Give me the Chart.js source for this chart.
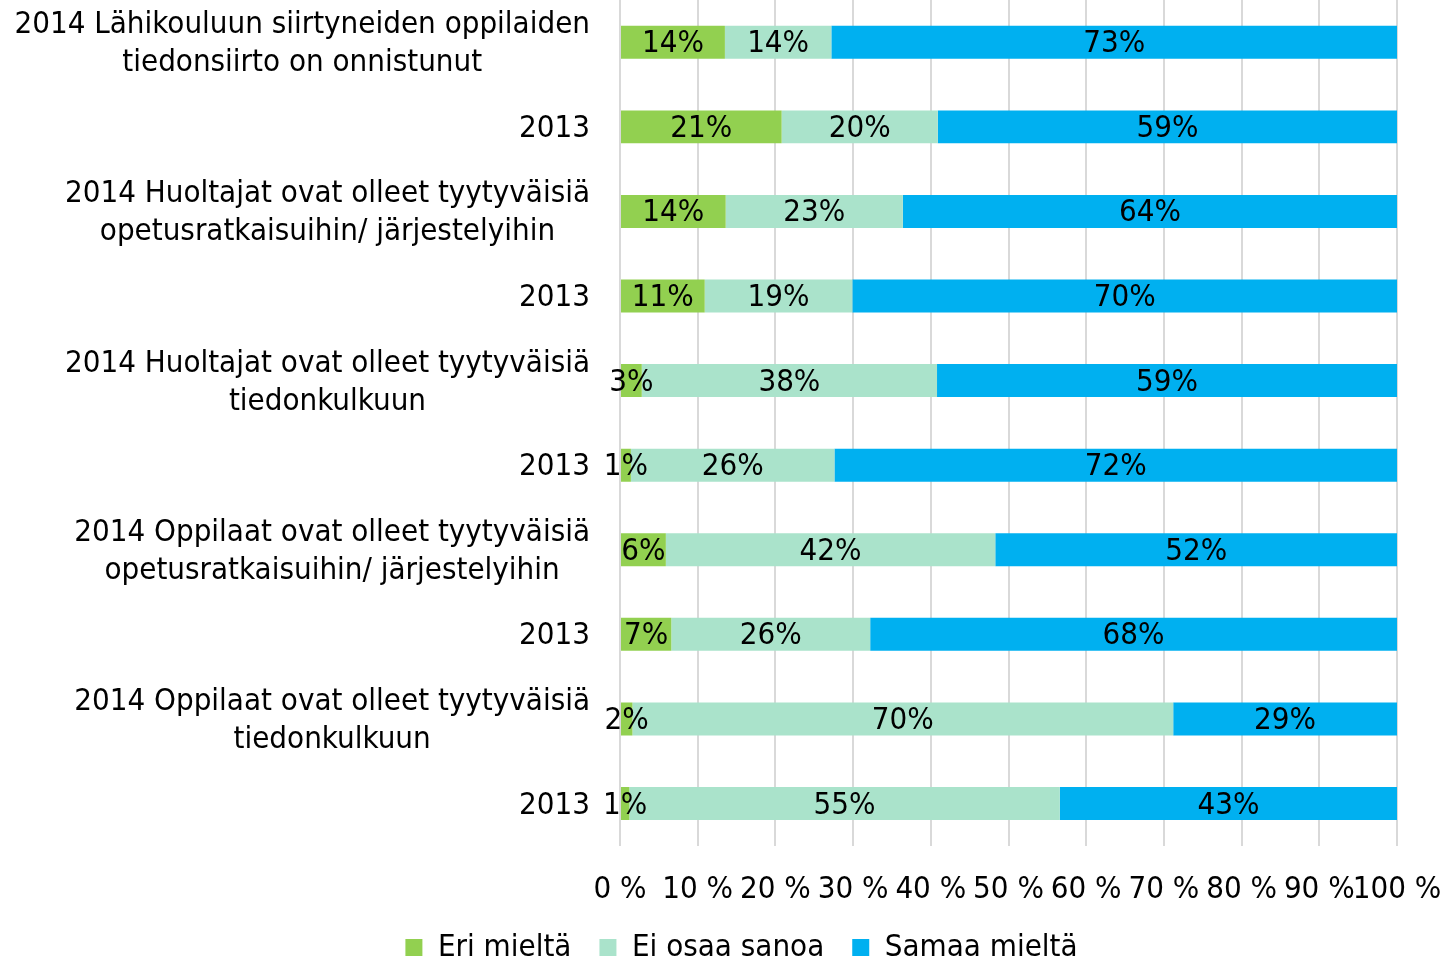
<!DOCTYPE html>
<html>
<head>
<meta charset="utf-8">
<script src="https://cdn.jsdelivr.net/npm/chart.js@4/dist/chart.umd.min.js"></script>
<style>
  body { margin: 0; background: #fff; }
  #wrap { width: 1455px; height: 961px; }
</style>
</head>
<body>
<div id="wrap"><canvas id="barChart"></canvas></div>
<script>
const categories = [
  ['2014 Lähikouluun siirtyneiden oppilaiden', 'tiedonsiirto on onnistunut'],
  ['2013'],
  ['2014 Huoltajat ovat olleet tyytyväisiä', 'opetusratkaisuihin/ järjestelyihin'],
  ['2013'],
  ['2014 Huoltajat ovat olleet tyytyväisiä', 'tiedonkulkuun'],
  ['2013'],
  ['2014 Oppilaat ovat olleet tyytyväisiä', 'opetusratkaisuihin/ järjestelyihin'],
  ['2013'],
  ['2014 Oppilaat ovat olleet tyytyväisiä', 'tiedonkulkuun'],
  ['2013']
];
const eriMielta = [13.5, 20.8, 13.6, 10.9, 2.8, 1.4, 5.9, 6.6, 1.6, 1.2];
const eiOsaaSanoa = [13.7, 20.1, 22.8, 19.0, 38.0, 26.2, 42.4, 25.6, 69.6, 55.4];
const samaaMielta = [72.8, 59.1, 63.6, 70.1, 59.2, 72.4, 51.7, 67.8, 28.8, 43.4];
const xTicks = [0, 10, 20, 30, 40, 50, 60, 70, 80, 90, 100];

const FONT = '"DejaVu Sans Condensed", "DejaVu Sans", sans-serif';
const SIZE = 31;
Chart.defaults.font.family = FONT;
Chart.defaults.color = '#000';

// segment labels, centred in each bar piece
const valueLabels = {
  id: 'valueLabels',
  afterDatasetsDraw(chart) {
    const ctx = chart.ctx;
    ctx.save();
    ctx.font = SIZE + 'px ' + FONT;
    ctx.fillStyle = '#000';
    ctx.textAlign = 'center';
    ctx.textBaseline = 'middle';
    chart.data.datasets.forEach((ds, i) => {
      chart.getDatasetMeta(i).data.forEach((bar, j) => {
        const p = bar.getCenterPoint();
        ctx.fillText(Math.round(ds.data[j]) + '%', p.x, p.y + 2);
      });
    });
    ctx.restore();
  }
};

// category labels: block right-aligned, lines centred within the block
const catLabels = {
  id: 'catLabels',
  afterLayout(chart) {
    // legend sits a bit right of centre in the original
    chart.legend.left += 14;
    chart.legend.right += 14;
  },
  afterDraw(chart) {
    const ctx = chart.ctx;
    const y = chart.scales.y;
    ctx.save();
    ctx.font = SIZE + 'px ' + FONT;
    ctx.fillStyle = '#000';
    ctx.textAlign = 'center';
    ctx.textBaseline = 'middle';
    const right = chart.chartArea.left - 30;
    const lh = 38;
    categories.forEach((lines, i) => {
      const w = Math.max(...lines.map(l => ctx.measureText(l).width));
      const cx = right - w / 2;
      const cy = y.getPixelForValue(i) + 2;
      lines.forEach((l, k) => {
        ctx.fillText(l, cx, cy + (k - (lines.length - 1) / 2) * lh);
      });
    });
    ctx.restore();
  }
};

new Chart(document.getElementById('barChart'), {
  type: 'bar',
  data: {
    labels: categories,
    datasets: [
      { label: 'Eri mieltä', data: eriMielta, backgroundColor: '#92d050' },
      { label: 'Ei osaa sanoa', data: eiOsaaSanoa, backgroundColor: '#aae3cb' },
      { label: 'Samaa mieltä', data: samaaMielta, backgroundColor: '#00b0f0' }
    ]
  },
  options: {
    indexAxis: 'y',
    responsive: true,
    maintainAspectRatio: false,
    animation: false,
    categoryPercentage: 1,
    barPercentage: 0.39,
    layout: { padding: { top: 0, right: 0, bottom: -12, left: 0 } },
    plugins: {
      tooltip: { enabled: false },
      legend: {
        position: 'bottom',
        labels: {
          color: '#000',
          font: { size: SIZE },
          boxWidth: 17,
          boxHeight: 17,
          padding: 28
        }
      }
    },
    scales: {
      x: {
        stacked: true,
        min: 0,
        max: 100,
        afterBuildTicks(scale) {
          scale.ticks = xTicks.map(v => ({ value: v }));
        },
        afterFit(scale) {
          scale.height -= 31;
          scale.paddingRight = 58;
        },
        grid: { color: '#d9d9d9', lineWidth: 2, drawTicks: false },
        border: { display: false },
        ticks: {
          font: { size: SIZE },
          padding: 26,
          autoSkip: false,
          maxRotation: 0,
          minRotation: 0,
          callback: v => v + ' %'
        }
      },
      y: {
        stacked: true,
        grid: { display: false },
        border: { display: false },
        ticks: { display: false },
        afterFit(scale) { scale.width = 620; }
      }
    }
  },
  plugins: [valueLabels, catLabels]
});
</script>
</body>
</html>
